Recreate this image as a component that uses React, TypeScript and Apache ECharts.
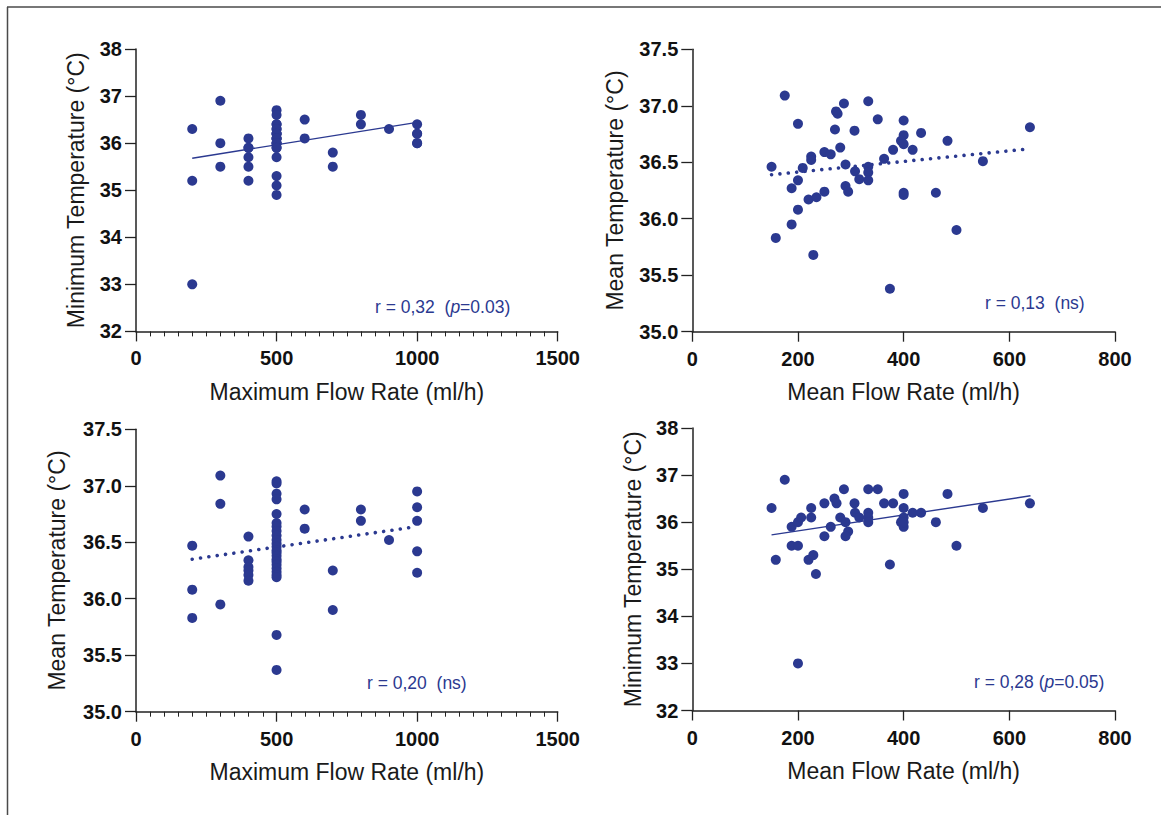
import React, { useEffect, useRef } from 'react';
import * as echarts from 'echarts';

const BLUE = '#2B3990';
const AXIS = '#222222';
const FONT = 'Liberation Sans, Arial, Helvetica, sans-serif';

// Panel A: Maximum flow rate (ml/h) vs Minimum temperature (°C)
const maxFlowMinTemp: [number, number][] = [
  [200, 36.3], [200, 35.2], [200, 33.0],
  [300, 36.9], [300, 36.0], [300, 35.5],
  [400, 36.1], [400, 35.9], [400, 35.7], [400, 35.5], [400, 35.2], [400, 35.9],
  [500, 36.7], [500, 36.6], [500, 36.4], [500, 36.4], [500, 36.3], [500, 36.3], [500, 36.2],
  [500, 36.2], [500, 36.2], [500, 36.1], [500, 36.1], [500, 36.1], [500, 36.0], [500, 36.0],
  [500, 36.0], [500, 35.9], [500, 35.9], [500, 35.7], [500, 35.3], [500, 35.1], [500, 34.9],
  [600, 36.5], [600, 36.1],
  [700, 35.8], [700, 35.5],
  [800, 36.6], [800, 36.4],
  [900, 36.3],
  [1000, 36.4], [1000, 36.2], [1000, 36.0], [1000, 36.2], [1000, 36.0],
];
const trendA: [number, number][] = [[200, 35.68], [1000, 36.44]];

// Panel B: Mean flow rate (ml/h) vs Mean temperature (°C)
const meanFlowMeanTemp: [number, number][] = [
  [175, 37.09], [150, 36.46], [158, 35.83], [200, 36.84], [188, 36.27], [200, 36.34],
  [188, 35.95], [200, 36.08], [209, 36.45], [225, 36.55], [225, 36.52], [220, 36.17],
  [235, 36.19], [229, 35.68], [250, 36.59], [262, 36.57], [250, 36.24], [270, 36.79],
  [272, 36.95], [275, 36.93], [287, 37.02], [280, 36.63], [290, 36.48], [290, 36.29],
  [295, 36.24], [307, 36.78], [308, 36.42], [316, 36.35], [333, 37.04], [333, 36.46],
  [333, 36.41], [333, 36.34], [351, 36.88], [363, 36.53], [374, 35.38], [380, 36.61],
  [400, 36.87], [400, 36.74], [395, 36.69], [400, 36.66], [400, 36.23], [400, 36.21],
  [417, 36.61], [433, 36.76], [461, 36.23], [483, 36.69], [500, 35.90], [550, 36.51],
  [639, 36.81],
];
const trendB: [number, number][] = [[150, 36.39], [640, 36.62]];

// Panel C: Maximum flow rate (ml/h) vs Mean temperature (°C)
const maxFlowMeanTemp: [number, number][] = [
  [200, 36.47], [200, 36.08], [200, 35.83],
  [300, 37.09], [300, 36.84], [300, 35.95],
  [400, 36.55], [400, 36.34], [400, 36.28], [400, 36.25], [400, 36.21], [400, 36.16],
  [500, 37.04], [500, 37.02], [500, 36.93], [500, 36.88], [500, 36.75], [500, 36.67],
  [500, 36.64], [500, 36.60], [500, 36.56], [500, 36.52], [500, 36.49], [500, 36.46],
  [500, 36.43], [500, 36.41], [500, 36.38], [500, 36.35], [500, 36.33], [500, 36.30],
  [500, 36.27], [500, 36.24], [500, 36.21], [500, 36.19], [500, 35.68], [500, 35.37],
  [600, 36.79], [600, 36.62],
  [700, 36.25], [700, 35.90],
  [800, 36.79], [800, 36.69],
  [900, 36.52],
  [1000, 36.95], [1000, 36.81], [1000, 36.69], [1000, 36.42], [1000, 36.23],
];
const trendC: [number, number][] = [[200, 36.35], [975, 36.63]];

// Panel D: Mean flow rate (ml/h) vs Minimum temperature (°C)
const meanFlowMinTemp: [number, number][] = [
  [175, 36.9], [150, 36.3], [158, 35.2], [200, 33.0], [188, 35.9], [200, 36.0],
  [188, 35.5], [200, 35.5], [206, 36.1], [225, 36.3], [225, 36.1], [220, 35.2],
  [229, 35.3], [234, 34.9], [250, 36.4], [269, 36.5], [273, 36.4], [262, 35.9],
  [250, 35.7], [287, 36.7], [280, 36.1], [290, 36.0], [295, 35.8], [290, 35.7],
  [307, 36.4], [308, 36.2], [316, 36.1], [333, 36.7], [333, 36.2], [333, 36.1],
  [333, 36.0], [351, 36.7], [363, 36.4], [374, 35.1], [380, 36.4], [400, 36.6],
  [400, 36.3], [395, 36.0], [400, 36.1], [400, 35.9], [400, 36.0], [417, 36.2],
  [433, 36.2], [461, 36.0], [483, 36.6], [500, 35.5], [550, 36.3], [639, 36.4],
];
const trendD: [number, number][] = [[150, 35.73], [640, 36.56]];

// minor tick positions on the maximum-flow axes (ml/h)
const minorTicksMaxFlow: number[] = [
  50, 100, 150, 200, 250, 300, 350, 400, 450,
  550, 600, 650, 700, 750, 800, 850, 900, 950,
  1050, 1100, 1150, 1200, 1250, 1300, 1350, 1400, 1450,
];

const xTitleMax = 'Maximum Flow Rate (ml/h)';
const xTitleMean = 'Mean Flow Rate (ml/h)';
const yTitleMin = 'Minimum Temperature (°C)';
const yTitleMean = 'Mean Temperature (°C)';

const labelsA = ['r = 0,32  (', 'p', '=0.03)'];
const labelsB = 'r = 0,13  (ns)';
const labelsC = 'r = 0,20  (ns)';
const labelsD = ['r = 0,28 (', 'p', '=0.05)'];

const LABEL_SIZE = 20;
const TITLE_SIZE = 23;
const NOTE_SIZE = 17.5;

function xAxis(gridIndex: number, max: number, interval: number, name: string) {
  return {
    type: 'value',
    gridIndex,
    min: 0,
    max,
    interval,
    name,
    nameLocation: 'middle',
    nameGap: 49,
    nameTextStyle: { fontFamily: FONT, fontSize: TITLE_SIZE, color: '#1a1a1a' },
    axisLine: { show: true, onZero: false, lineStyle: { color: AXIS, width: 1.5 } },
    axisTick: { show: true, inside: false, length: 10, lineStyle: { color: AXIS, width: 1.3 } },
    axisLabel: {
      margin: 17,
      fontFamily: FONT,
      fontWeight: 'bold',
      fontSize: LABEL_SIZE,
      color: '#111',
      showMinLabel: true,
      showMaxLabel: true,
      formatter: (v: number) => String(v),
    },
    splitLine: { show: false },
  };
}

function yAxis(gridIndex: number, min: number, max: number, interval: number, decimals: number, name: string, nameGap: number) {
  return {
    type: 'value',
    gridIndex,
    min,
    max,
    interval,
    name,
    nameLocation: 'middle',
    nameGap,
    nameRotate: 90,
    nameTextStyle: { fontFamily: FONT, fontSize: TITLE_SIZE, color: '#1a1a1a' },
    axisLine: { show: true, onZero: false, lineStyle: { color: AXIS, width: 1.5 } },
    axisTick: { show: true, inside: false, length: 11, lineStyle: { color: AXIS, width: 1.3 } },
    axisLabel: {
      margin: 14,
      fontFamily: FONT,
      fontWeight: 'bold',
      fontSize: LABEL_SIZE,
      color: '#111',
      showMinLabel: true,
      showMaxLabel: true,
      formatter: (v: number) => v.toFixed(decimals),
    },
    splitLine: { show: false },
  };
}

function scatter(i: number, data: [number, number][]) {
  return {
    type: 'scatter',
    xAxisIndex: i,
    yAxisIndex: i,
    data,
    symbol: 'circle',
    symbolSize: 10,
    itemStyle: { color: BLUE, opacity: 1 },
    z: 3,
  };
}

function trend(i: number, data: [number, number][], dotted: boolean) {
  return {
    type: 'line',
    xAxisIndex: i,
    yAxisIndex: i,
    data,
    showSymbol: false,
    symbol: 'none',
    silent: true,
    lineStyle: dotted
      ? { color: BLUE, width: 3.6, type: [0.01, 8.4], cap: 'round' }
      : { color: BLUE, width: 1.4, type: 'solid' },
    z: 2,
  };
}

// minor ticks placed through the panel's own x scale, hanging below the x axis
function minorTicks(i: number, yMin: number) {
  return {
    type: 'custom',
    xAxisIndex: i,
    yAxisIndex: i,
    silent: true,
    clip: false,
    z: 20,
    data: minorTicksMaxFlow.map((v) => [v, yMin]),
    renderItem: (_params: any, api: any) => {
      const p = api.coord([api.value(0), api.value(1)]);
      const x = Math.round(p[0]) + 0.5;
      return {
        type: 'line',
        shape: { x1: x, y1: p[1], x2: x, y2: p[1] + 5 },
        style: { stroke: AXIS, lineWidth: 1 },
      };
    },
  };
}

function richLabel(x: number, y: number, parts: string[]) {
  return {
    type: 'text',
    x,
    y,
    style: {
      text: `{n|${parts[0]}}{i|${parts[1]}}{n|${parts[2]}}`,
      rich: {
        n: { fontFamily: FONT, fontSize: NOTE_SIZE, fill: BLUE },
        i: { fontFamily: FONT, fontSize: NOTE_SIZE, fontStyle: 'italic', fill: BLUE },
      },
      fill: BLUE,
      fontFamily: FONT,
      fontSize: NOTE_SIZE,
      verticalAlign: 'middle',
    },
  };
}

function plainLabel(x: number, y: number, text: string) {
  return {
    type: 'text',
    x,
    y,
    style: {
      text,
      fill: BLUE,
      fontFamily: FONT,
      fontSize: NOTE_SIZE,
      verticalAlign: 'middle',
    },
  };
}

const gridBase = { containLabel: false, outerBoundsMode: 'none' };

const option = {
  animation: false,
  backgroundColor: '#ffffff',
  grid: [
    { ...gridBase, left: 136, top: 49, width: 421.7, height: 282.4 },
    { ...gridBase, left: 692.3, top: 49.3, width: 422.7, height: 282.4 },
    { ...gridBase, left: 136, top: 429.3, width: 421.7, height: 282.4 },
    { ...gridBase, left: 692.3, top: 428, width: 422.7, height: 282.5 },
  ],
  xAxis: [
    xAxis(0, 1500, 500, xTitleMax),
    xAxis(1, 800, 200, xTitleMean),
    xAxis(2, 1500, 500, xTitleMax),
    xAxis(3, 800, 200, xTitleMean),
  ],
  yAxis: [
    yAxis(0, 32, 38, 1, 0, yTitleMin, 49),
    yAxis(1, 35, 37.5, 0.5, 1, yTitleMean, 66),
    yAxis(2, 35, 37.5, 0.5, 1, yTitleMean, 68),
    yAxis(3, 32, 38, 1, 0, yTitleMin, 48),
  ],
  series: [
    trend(0, trendA, false),
    scatter(0, maxFlowMinTemp),
    minorTicks(0, 32),
    trend(1, trendB, true),
    scatter(1, meanFlowMeanTemp),
    trend(2, trendC, true),
    scatter(2, maxFlowMeanTemp),
    minorTicks(2, 35),
    trend(3, trendD, false),
    scatter(3, meanFlowMinTemp),
  ],
  graphic: [
    { type: 'line', shape: { x1: 7, y1: 7, x2: 1161, y2: 7 }, style: { stroke: '#4a4a4a', lineWidth: 1.5 } },
    { type: 'line', shape: { x1: 7.5, y1: 7, x2: 7.5, y2: 815 }, style: { stroke: '#4a4a4a', lineWidth: 1.5 } },
    richLabel(375, 307, labelsA),
    plainLabel(985, 303, labelsB),
    plainLabel(367, 683, labelsC),
    richLabel(974, 682, labelsD),
  ],
};

export default function App() {
  const ref = useRef<HTMLDivElement>(null);
  useEffect(() => {
    if (!ref.current) return;
    const chart = echarts.init(ref.current, null, { renderer: 'svg' });
    chart.setOption(option as any);
    return () => chart.dispose();
  }, []);
  return (
    <div
      ref={ref}
      style={{ position: 'absolute', left: 0, top: 0, width: 1161, height: 815, background: '#fff' }}
    />
  );
}
